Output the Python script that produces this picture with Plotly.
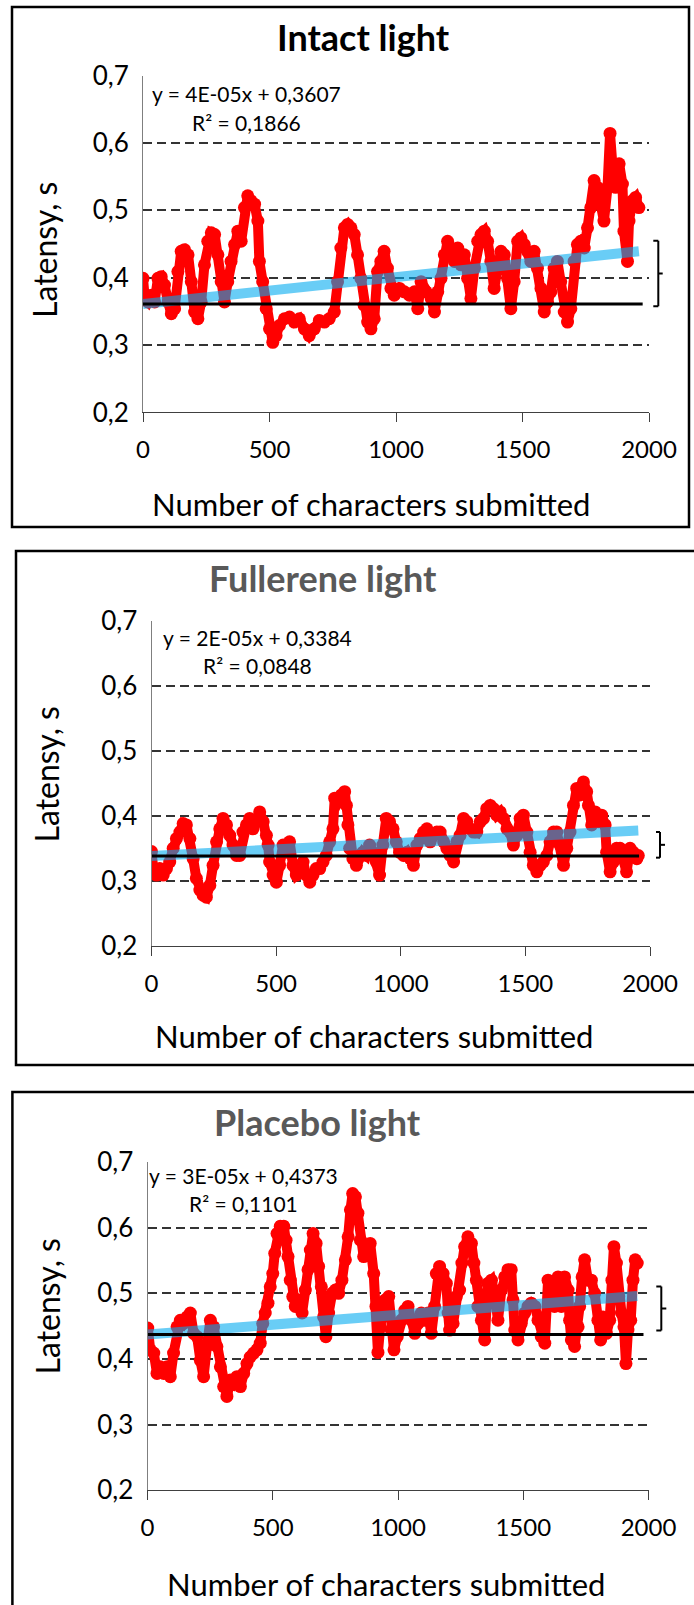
import plotly.graph_objects as go

W, H = 694, 1605

# ---------------- data ----------------
intact_x = [0, 7, 20, 33, 46, 59, 72, 85, 99, 112, 125, 138, 151, 164, 178, 191, 204, 217, 230, 243,
            256, 270, 283, 296, 309, 322, 335, 348, 362, 375, 388, 401, 414, 427, 441, 454, 460, 473, 487, 500,
            513, 526, 539, 559, 579, 598, 618, 638, 657, 677, 697, 717, 736, 756, 769, 782, 796, 809, 822, 835,
            848, 861, 874, 888, 901, 914, 927, 940, 953, 966, 980, 993,
            1014, 1033, 1053, 1073, 1086, 1099, 1119, 1139, 1152, 1165, 1178, 1191, 1204, 1218, 1231, 1244, 1257, 1270, 1283, 1296,
            1310, 1323, 1336, 1349, 1362, 1375, 1388, 1402, 1415, 1428, 1441, 1454, 1467, 1481, 1494, 1507, 1520, 1533, 1546, 1559,
            1573, 1586, 1599, 1612, 1625, 1638, 1651, 1665, 1678, 1691, 1704, 1717, 1730, 1744, 1757, 1770, 1783, 1796, 1809, 1822,
            1836, 1846, 1855, 1868, 1882, 1895, 1901, 1915, 1921, 1934, 1947, 1960]
intact_y = [0.399, 0.369, 0.364, 0.374, 0.364, 0.399, 0.4015, 0.389, 0.364, 0.3465, 0.354, 0.409, 0.439, 0.4415, 0.434, 0.394, 0.349, 0.339, 0.364, 0.419,
            0.454, 0.4665, 0.464, 0.434, 0.394, 0.364, 0.394, 0.424, 0.449, 0.469, 0.454, 0.504, 0.5215, 0.514, 0.509, 0.484, 0.424, 0.394, 0.354, 0.324,
            0.304, 0.314, 0.329, 0.339, 0.3415, 0.334, 0.339, 0.324, 0.314, 0.324, 0.3365, 0.334, 0.339, 0.349, 0.394, 0.444, 0.474, 0.479, 0.474, 0.464,
            0.434, 0.399, 0.359, 0.334, 0.324, 0.339, 0.409, 0.424, 0.439, 0.414, 0.384, 0.374,
            0.384, 0.379, 0.374, 0.379, 0.354, 0.394, 0.379, 0.369, 0.349, 0.379, 0.399, 0.434, 0.454, 0.444, 0.424, 0.444, 0.419, 0.434, 0.399, 0.369,
            0.414, 0.454, 0.464, 0.469, 0.454, 0.424, 0.384, 0.414, 0.439, 0.434, 0.399, 0.354, 0.394, 0.454, 0.459, 0.449, 0.439, 0.424, 0.439, 0.414,
            0.384, 0.349, 0.364, 0.379, 0.414, 0.424, 0.394, 0.349, 0.334, 0.354, 0.424, 0.449, 0.454, 0.444, 0.474, 0.504, 0.544, 0.534, 0.514, 0.484,
            0.534, 0.614, 0.569, 0.534, 0.569, 0.539, 0.469, 0.424, 0.484, 0.514, 0.519, 0.504]

fullerene_x = [0, 7, 20, 33, 47, 60, 73, 87, 100, 114, 127, 140, 154, 167, 180, 194, 207, 220, 234, 247,
               261, 274, 287, 301, 314, 327, 341, 354, 367, 381, 394, 407, 421, 434, 448, 461, 468, 474, 488, 501,
               514, 528, 541, 554, 568, 581, 595, 608, 621, 635, 648, 661, 675, 688, 701, 715, 728, 735, 748, 762,
               775, 782, 788, 795, 808, 822, 835, 848, 862, 875, 888, 902, 915, 928, 942, 955, 969, 982, 995,
               1011, 1025, 1038, 1051, 1065, 1078, 1092, 1105, 1118, 1132, 1145, 1158, 1172, 1185, 1198, 1212, 1225, 1238, 1252, 1265,
               1279, 1292, 1305, 1319, 1332, 1345, 1359, 1372, 1385, 1399, 1412, 1426, 1439, 1452, 1466, 1479, 1492, 1506, 1519, 1532,
               1546, 1559, 1572, 1586, 1599, 1613, 1626, 1639, 1653, 1666, 1679, 1693, 1706, 1719, 1733, 1746, 1753, 1766, 1780, 1793,
               1806, 1820, 1826, 1840, 1853, 1866, 1880, 1893, 1906, 1920, 1933, 1947, 1953]
fullerene_y = [0.345, 0.319, 0.309, 0.319, 0.309, 0.319, 0.329, 0.350, 0.365, 0.375, 0.388, 0.386, 0.365, 0.334, 0.304, 0.286, 0.278, 0.275, 0.293, 0.324,
               0.360, 0.380, 0.396, 0.386, 0.370, 0.355, 0.339, 0.339, 0.375, 0.386, 0.396, 0.380, 0.391, 0.406, 0.391, 0.370, 0.355, 0.329, 0.309, 0.298,
               0.324, 0.355, 0.344, 0.360, 0.324, 0.309, 0.314, 0.329, 0.309, 0.298, 0.309, 0.319, 0.319, 0.329, 0.339, 0.360, 0.380, 0.427, 0.421, 0.432,
               0.437, 0.416, 0.386, 0.350, 0.334, 0.324, 0.339, 0.344, 0.339, 0.355, 0.344, 0.329, 0.309, 0.355, 0.396, 0.391, 0.380, 0.360, 0.344,
               0.339, 0.344, 0.334, 0.324, 0.355, 0.365, 0.375, 0.380, 0.360, 0.370, 0.375, 0.375, 0.360, 0.350, 0.339, 0.329, 0.360, 0.370, 0.396, 0.391,
               0.380, 0.375, 0.375, 0.391, 0.396, 0.411, 0.416, 0.411, 0.401, 0.406, 0.396, 0.380, 0.375, 0.355, 0.370, 0.396, 0.401, 0.375, 0.344, 0.324,
               0.314, 0.324, 0.329, 0.339, 0.360, 0.375, 0.375, 0.355, 0.324, 0.350, 0.375, 0.416, 0.442, 0.432, 0.452, 0.437, 0.416, 0.386, 0.406, 0.391,
               0.401, 0.386, 0.344, 0.314, 0.329, 0.350, 0.350, 0.334, 0.314, 0.350, 0.344, 0.334, 0.339]

placebo_x = [1, 11, 25, 38, 51, 65, 78, 91, 104, 118, 131, 144, 158, 171, 184, 198, 211, 224, 237, 251,
             264, 277, 291, 304, 317, 331, 344, 357, 371, 384, 397, 410, 424, 437, 450, 460, 470, 481, 490, 500,
             508, 517, 530, 544, 553, 561, 570, 580, 590, 603, 617, 630, 641, 650, 661, 673, 683, 694, 703, 712,
             723, 737, 750, 763, 776, 790, 801, 810, 819, 830, 840, 850, 863, 876, 889, 903, 912, 920, 929, 939,
             949, 963, 973, 984, 997,
             1013, 1027, 1040, 1053, 1067, 1080, 1093, 1106, 1120, 1133, 1146, 1153, 1166, 1180, 1193, 1200, 1206, 1220, 1233, 1246,
             1255, 1266, 1279, 1293, 1303, 1313, 1319, 1333, 1346, 1359, 1373, 1386, 1399, 1413, 1426, 1439, 1452, 1459, 1466, 1479,
             1492, 1506, 1519, 1532, 1546, 1559, 1572, 1586, 1599, 1612, 1625, 1639, 1652, 1665, 1679, 1685, 1692, 1705, 1719, 1725,
             1735, 1745, 1758, 1772, 1785, 1798, 1809, 1818, 1832, 1845, 1854, 1862, 1872, 1881, 1892, 1902, 1910, 1918, 1929, 1938,
             1947, 1955]
placebo_y = [0.447, 0.414, 0.409, 0.378, 0.388, 0.378, 0.388, 0.373, 0.409, 0.449, 0.459, 0.454, 0.464, 0.470, 0.439, 0.434, 0.398, 0.373, 0.419, 0.459,
             0.449, 0.419, 0.388, 0.358, 0.343, 0.368, 0.363, 0.373, 0.358, 0.378, 0.393, 0.403, 0.409, 0.414, 0.424, 0.454, 0.470, 0.485, 0.510, 0.530,
             0.561, 0.591, 0.602, 0.602, 0.581, 0.556, 0.520, 0.495, 0.480, 0.490, 0.470, 0.505, 0.536, 0.566, 0.591, 0.576, 0.541, 0.510, 0.464, 0.434,
             0.470, 0.500, 0.505, 0.500, 0.520, 0.551, 0.586, 0.627, 0.652, 0.647, 0.622, 0.581, 0.556, 0.571, 0.576, 0.530, 0.480, 0.410, 0.449, 0.470,
             0.490, 0.495, 0.444, 0.414, 0.434,
             0.459, 0.474, 0.480, 0.459, 0.439, 0.454, 0.470, 0.459, 0.470, 0.439, 0.480, 0.530, 0.541, 0.530, 0.515, 0.470, 0.444, 0.454, 0.495, 0.505,
             0.546, 0.571, 0.586, 0.576, 0.546, 0.520, 0.480, 0.459, 0.429, 0.515, 0.520, 0.500, 0.459, 0.505, 0.525, 0.536, 0.536, 0.490, 0.444, 0.429,
             0.454, 0.470, 0.480, 0.485, 0.480, 0.459, 0.434, 0.424, 0.520, 0.500, 0.480, 0.525, 0.480, 0.525, 0.505, 0.459, 0.429, 0.419, 0.449, 0.480,
             0.525, 0.551, 0.520, 0.520, 0.500, 0.459, 0.429, 0.464, 0.439, 0.459, 0.520, 0.571, 0.546, 0.495, 0.470, 0.449, 0.393, 0.444, 0.459, 0.520,
             0.551, 0.546]

titles = ["Intact light", "Fullerene light", "Placebo light"]
title_colors = ["#000000", "#595959", "#595959"]
slopes = [4e-05, 2e-05, 3e-05]
intercepts = [0.3607, 0.3384, 0.4373]
equation_labels = ["y = 4E-05x + 0,3607", "y = 2E-05x + 0,3384", "y = 3E-05x + 0,4373"]
r2_labels = ["R² = 0,1866", "R² = 0,0848", "R² = 0,1101"]
baseline_end = [1975, 1956, 1980]
brace_low = [0.3577, 0.3357, 0.4435]
brace_high = [0.4549, 0.3751, 0.5104]

y_tickvals = [0.2, 0.3, 0.4, 0.5, 0.6, 0.7]
y_ticktext = ["0,2", "0,3", "0,4", "0,5", "0,6", "0,7"]
x_tickvals = [0, 500, 1000, 1500, 2000]
x_ticktext = ["0", "500", "1000", "1500", "2000"]

series = [(intact_x, intact_y), (fullerene_x, fullerene_y), (placebo_x, placebo_y)]

# ---------------- page geometry (pixels) ----------------
geom = [
    dict(ax_l=143, ax_r=649, y_top=75.5, y_bot=412.4, box=(12, 7, 689, 527),
         title=(363, 37), ylab=(44, 250), xlab=(371, 504), eq_c=246, eq_y=93.5, r2_y=122.5,
         brace=(653.3, 658.3, 662.7)),
    dict(ax_l=151.5, ax_r=650, y_top=620.5, y_bot=946, box=(16, 551, 697, 1065),
         title=(323, 578), ylab=(46.5, 775), xlab=(374, 1036), eq_c=257, eq_y=637, r2_y=665.5,
         brace=(656, 660, 665)),
    dict(ax_l=147.5, ax_r=648.5, y_top=1162, y_bot=1490.3, box=(12.4, 1092, 697, 1608),
         title=(317.5, 1122), ylab=(46.5, 1307), xlab=(386, 1584), eq_c=243, eq_y=1175.5, r2_y=1203.5,
         brace=(656.3, 661.3, 666.3)),
]


def px(x):
    return x / W


def py(y):
    return 1 - y / H


FONT = "Lato, 'Open Sans', sans-serif"

fig = go.Figure()
shapes = []
annotations = []
layout_axes = {}

for i, ((xs, ys), g) in enumerate(zip(series, geom)):
    n = "" if i == 0 else str(i + 1)
    xa, ya = "x" + n, "y" + n

    # moving-average latency points
    fig.add_trace(go.Scatter(
        x=xs, y=ys, xaxis=xa, yaxis=ya, mode="lines+markers",
        line=dict(color="#ff0000", width=10),
        marker=dict(color="#ff0000", size=13, line=dict(width=0)),
        showlegend=False, hoverinfo="skip"))

    # linear trend
    tx = [min(xs), max(xs)]
    ty = [intercepts[i] + slopes[i] * v for v in tx]
    fig.add_trace(go.Scatter(
        x=tx, y=ty, xaxis=xa, yaxis=ya, mode="lines",
        line=dict(color="rgba(0,170,240,0.59)", width=10),
        showlegend=False, hoverinfo="skip"))

    # starting level
    fig.add_trace(go.Scatter(
        x=[0, baseline_end[i]], y=[intercepts[i], intercepts[i]], xaxis=xa, yaxis=ya,
        mode="lines", line=dict(color="#000000", width=3),
        showlegend=False, hoverinfo="skip"))

    layout_axes["xaxis" + n] = dict(
        domain=[px(g["ax_l"]), px(g["ax_r"])], anchor=ya, range=[0, 2000],
        tickvals=x_tickvals, ticktext=x_ticktext,
        showgrid=False, zeroline=False, automargin=False,
        showline=True, linecolor="#404040", linewidth=1,
        ticks="outside", ticklen=9, tickcolor="#404040", tickwidth=1,
        ticklabelstandoff=7,
        tickfont=dict(family=FONT, size=24, color="#000000"))
    layout_axes["yaxis" + n] = dict(
        domain=[py(g["y_bot"]), py(g["y_top"])], anchor=xa, range=[0.2, 0.7],
        tickvals=y_tickvals, ticktext=y_ticktext,
        showgrid=True, gridcolor="#333333", gridwidth=1.5, griddash="9px,5px",
        zeroline=False, automargin=False, showline=True, linecolor="#7f7f7f", linewidth=1,
        ticks="", ticklabelstandoff=8,
        tickfont=dict(family=FONT, size=26, color="#000000"))

    # panel frame
    x0, y0, x1, y1 = g["box"]
    shapes.append(dict(type="rect", xref="paper", yref="paper",
                       x0=px(x0), x1=px(x1), y0=py(y1), y1=py(y0),
                       line=dict(color="#000000", width=2.5), layer="above"))

    # brace between the starting level and the trend end
    bl, bv, bn = g["brace"]
    lo, hi = brace_low[i], brace_high[i]
    mid = (lo + hi) / 2
    for (ax0, ay0, ax1, ay1) in [(bl, hi, bv, hi), (bv, hi, bv, lo), (bl, lo, bv, lo), (bv, mid, bn, mid)]:
        shapes.append(dict(type="line", xref="paper", yref=ya,
                           x0=px(ax0), x1=px(ax1), y0=ay0, y1=ay1,
                           line=dict(color="#000000", width=2)))

    annotations += [
        dict(text="<b>%s</b>" % titles[i], x=px(g["title"][0]), y=py(g["title"][1]),
             xref="paper", yref="paper", xanchor="center", yanchor="middle", showarrow=False,
             font=dict(family=FONT, size=36, color=title_colors[i])),
        dict(text="Latensy, s", x=px(g["ylab"][0]), y=py(g["ylab"][1]), textangle=-90,
             xref="paper", yref="paper", xanchor="center", yanchor="middle", showarrow=False,
             font=dict(family=FONT, size=32, color="#000000")),
        dict(text="Number of characters submitted", x=px(g["xlab"][0]), y=py(g["xlab"][1]),
             xref="paper", yref="paper", xanchor="center", yanchor="middle", showarrow=False,
             font=dict(family=FONT, size=31, color="#000000")),
        dict(text=equation_labels[i], x=px(g["eq_c"]), y=py(g["eq_y"]),
             xref="paper", yref="paper", xanchor="center", yanchor="middle", showarrow=False,
             font=dict(family=FONT, size=21, color="#000000")),
        dict(text=r2_labels[i], x=px(g["eq_c"]), y=py(g["r2_y"]),
             xref="paper", yref="paper", xanchor="center", yanchor="middle", showarrow=False,
             font=dict(family=FONT, size=21, color="#000000")),
    ]

fig.update_layout(
    width=W, height=H, autosize=False, margin=dict(l=0, r=0, t=0, b=0, pad=0),
    paper_bgcolor="#ffffff", plot_bgcolor="#ffffff",
    shapes=shapes, annotations=annotations, showlegend=False,
    font=dict(family=FONT),
    **layout_axes)

fig.write_html("out.html", config={"responsive": False, "displayModeBar": False})
